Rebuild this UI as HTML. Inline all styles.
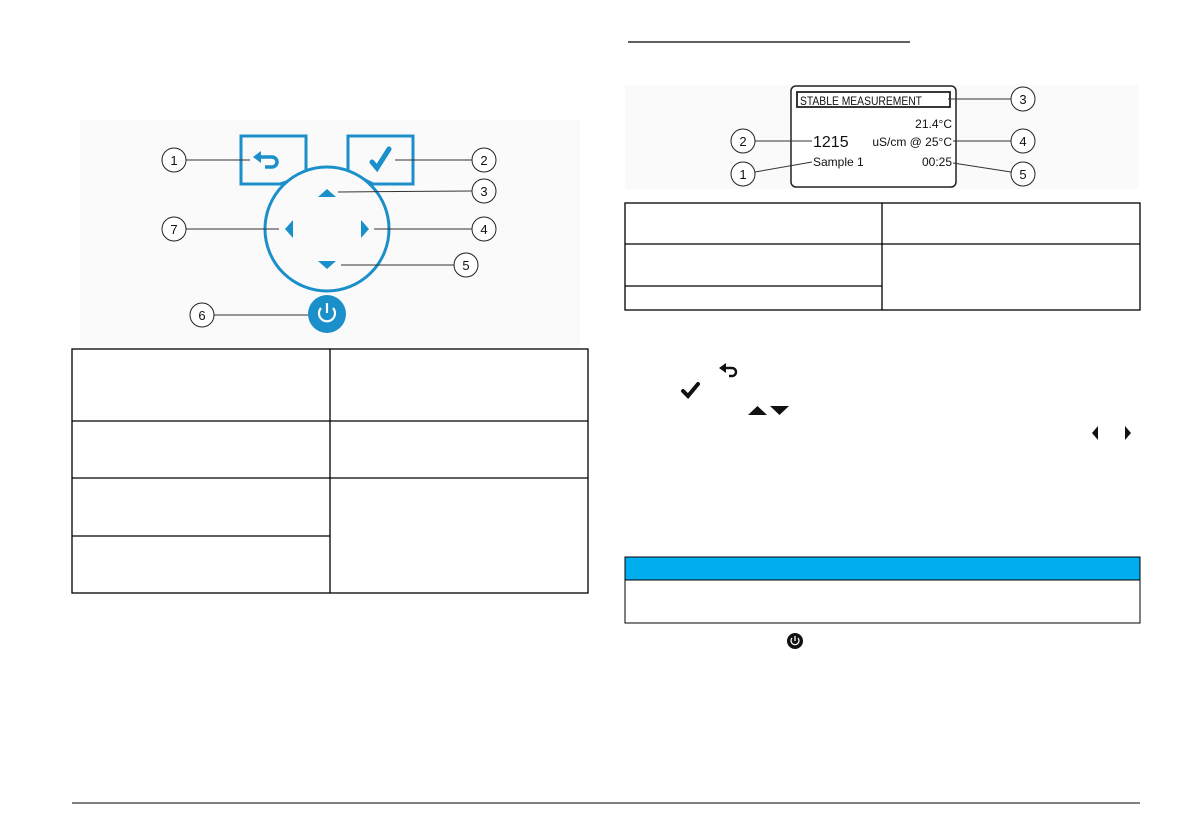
<!DOCTYPE html>
<html><head><meta charset="utf-8"><style>
html,body{margin:0;padding:0;background:#fff;width:1192px;height:840px;overflow:hidden}
svg{display:block}
text{font-family:"Liberation Sans",Arial,sans-serif}
</style></head><body>
<svg width="1192" height="840" viewBox="0 0 1192 840" xmlns="http://www.w3.org/2000/svg">
<rect x="80" y="120" width="500" height="226" fill="#fafafa"/>
<g fill="none" stroke="#1a8fc9" stroke-width="3">
<path d="M241,136 H306 V172 L292,180 L280,184 H241 Z" fill="#fafafa"/>
<path d="M348,136 H413 V184 H373 L361,178 L348,172 Z" fill="#fafafa"/>
<circle cx="327" cy="229" r="62" fill="#fafafa"/>
</g>
<path d="M260,157 H272 A5,5 0 0 1 272,167 H265" fill="none" stroke="#1a8fc9" stroke-width="3.5"/>
<path d="M253,157 L261,151 V163 Z" fill="#1a8fc9"/>
<path d="M372,162 L377,168 L389,149" fill="none" stroke="#1a8fc9" stroke-width="5" stroke-linecap="round"/>
<g fill="#1a8fc9">
<path d="M318,197 L336,197 L327,189 Z"/>
<path d="M318,261 L336,261 L327,269 Z"/>
<path d="M293,220 L293,238 L285,229 Z"/>
<path d="M361,220 L361,238 L369,229 Z"/>
<circle cx="327" cy="314" r="19"/>
</g>
<path d="M321,308 A8,8 0 1 0 333,308" fill="none" stroke="#fff" stroke-width="2.2"/>
<line x1="327" y1="303" x2="327" y2="313" stroke="#fff" stroke-width="2.2"/>
<g stroke="#333" stroke-width="1" fill="none">
<line x1="186" y1="160" x2="250" y2="160"/>
<line x1="395" y1="160" x2="472" y2="160"/>
<line x1="338" y1="192" x2="472" y2="191"/>
<line x1="374" y1="229" x2="472" y2="229"/>
<line x1="341" y1="265" x2="454" y2="265"/>
<line x1="214" y1="315" x2="308" y2="315"/>
<line x1="186" y1="229" x2="279" y2="229"/>
</g>
<g stroke="#222" stroke-width="1" fill="#fff">
<circle cx="174" cy="160" r="12"/><circle cx="484" cy="160" r="12"/><circle cx="484" cy="191" r="12"/>
<circle cx="484" cy="229" r="12"/><circle cx="466" cy="265" r="12"/><circle cx="202" cy="315" r="12"/><circle cx="174" cy="229" r="12"/>
</g>
<g font-size="13" text-anchor="middle" fill="#111">
<text x="174" y="165">1</text><text x="484" y="165">2</text><text x="484" y="196">3</text><text x="484" y="234">4</text>
<text x="466" y="270">5</text><text x="202" y="320">6</text><text x="174" y="234">7</text>
</g>
<g stroke="#000" stroke-width="1.3" fill="none">
<rect x="72" y="349" width="516" height="244"/>
<line x1="330" y1="349" x2="330" y2="593"/>
<line x1="72" y1="421" x2="588" y2="421"/>
<line x1="72" y1="478" x2="588" y2="478"/>
<line x1="72" y1="536" x2="330" y2="536"/>
</g>
<line x1="628" y1="42" x2="910" y2="42" stroke="#000" stroke-width="1.3"/>
<rect x="625" y="85" width="513" height="104" fill="#fafafa"/>
<rect x="791" y="86" width="165" height="101" rx="5" fill="#fff" stroke="#222" stroke-width="1.5"/>
<rect x="797" y="92" width="153" height="15" fill="#fff" stroke="#222" stroke-width="1.8"/>
<g fill="#111" font-size="12">
<text x="800" y="105" textLength="122" lengthAdjust="spacingAndGlyphs">STABLE MEASUREMENT</text>
<text x="952" y="128" text-anchor="end">21.4°C</text>
<text x="952" y="146" text-anchor="end">uS/cm @ 25°C</text>
<text x="952" y="166" text-anchor="end">00:25</text>
<text x="813" y="166">Sample 1</text>
<text x="813" y="147" font-size="16">1215</text>
</g>
<g stroke="#333" stroke-width="1" fill="none">
<line x1="948" y1="99" x2="1011" y2="99"/>
<line x1="755" y1="141" x2="812" y2="141"/>
<line x1="953" y1="141" x2="1011" y2="141"/>
<line x1="755" y1="172" x2="812" y2="162"/>
<line x1="953" y1="163" x2="1011" y2="172"/>
</g>
<g stroke="#222" stroke-width="1" fill="#fff">
<circle cx="1023" cy="99" r="12"/><circle cx="743" cy="141" r="12"/><circle cx="1023" cy="141" r="12"/>
<circle cx="743" cy="174" r="12"/><circle cx="1023" cy="174" r="12"/>
</g>
<g font-size="13" text-anchor="middle" fill="#111">
<text x="1023" y="104">3</text><text x="743" y="146">2</text><text x="1023" y="146">4</text><text x="743" y="179">1</text><text x="1023" y="179">5</text>
</g>
<g stroke="#000" stroke-width="1.3" fill="none">
<rect x="625" y="203" width="515" height="107"/>
<line x1="882" y1="203" x2="882" y2="310"/>
<line x1="625" y1="244" x2="1140" y2="244"/>
<line x1="625" y1="286" x2="882" y2="286"/>
</g>
<path d="M726,368 H732 A4,4 0 0 1 732,376 H729" fill="none" stroke="#111" stroke-width="2.5"/>
<path d="M719,368 L726,363 V373 Z" fill="#111"/>
<path d="M683,391 L688,396 L698,384" fill="none" stroke="#111" stroke-width="4" stroke-linecap="round"/>
<path d="M748,415 L767,415 L757.5,406 Z M770,406 L789,406 L779.5,415 Z" fill="#111"/>
<path d="M1098,426 L1098,440 L1092,433 Z M1125,426 L1125,440 L1131,433 Z" fill="#111"/>
<rect x="625" y="557" width="515" height="23" fill="#00aeef" stroke="#000" stroke-width="1"/>
<rect x="625" y="580" width="515" height="43" fill="#fff" stroke="#000" stroke-width="1"/>
<circle cx="795" cy="641" r="8" fill="#111"/>
<path d="M792,638 A4,4 0 1 0 798,638" fill="none" stroke="#fff" stroke-width="1.3"/>
<line x1="795" y1="636" x2="795" y2="641" stroke="#fff" stroke-width="1.3"/>
<line x1="72" y1="803" x2="1140" y2="803" stroke="#000" stroke-width="1"/>
</svg>
</body></html>
